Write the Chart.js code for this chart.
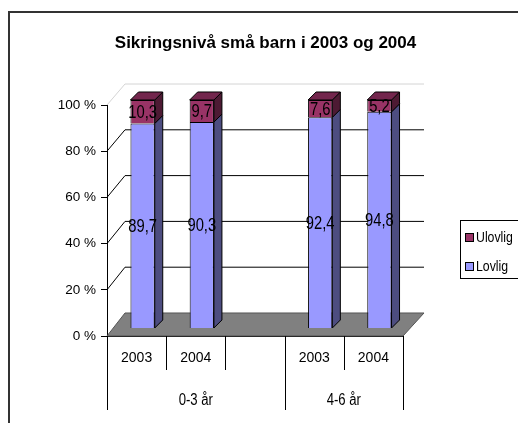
<!DOCTYPE html>
<html>
<head>
<meta charset="utf-8">
<script src="https://cdn.jsdelivr.net/npm/chart.js@4.4.1/dist/chart.umd.min.js"></script>
<style>
  html, body { margin: 0; padding: 0; background: #fff; }
  #myChart { display: block; }
</style>
</head>
<body>
<canvas id="myChart" width="518" height="423"></canvas>
<script>
// data
var years = ['2003', '2004', '', '2003', '2004'];
var groups = ['0-3 år', '4-6 år'];
var groupSizes = [3, 2];
var lovlig = [89.7, 90.3, null, 92.4, 94.8];
var ulovlig = [10.3, 9.7, null, 7.6, 5.2];
var yTicks = [0, 20, 40, 60, 80, 100];

var FONT = "'Liberation Sans', Arial, sans-serif";
var NARROW = 0.82;           // the original text is condensed
var BAR_SHIFT = 6;           // bars stand a little behind the front axis
var DEPTH = 8;               // depth of each bar
var WALL_L = 18, WALL_R = 21; // offset of the back wall

function narrowText(ctx, text, x, y) {
    ctx.save();
    ctx.translate(x, y);
    ctx.scale(NARROW, 1);
    ctx.fillText(text, 0, 0);
    ctx.restore();
}

// 3d look: walls, floor, bar sides and tops, value labels
var fake3d = {
    id: 'fake3d',
    beforeDatasetsDraw: function (chart) {
        var ctx = chart.ctx, y = chart.scales.y, yw = chart.scales.yw;
        var l = chart.chartArea.left, r = chart.chartArea.right;
        ctx.save();
        // floor
        ctx.beginPath();
        ctx.moveTo(l, y.getPixelForValue(0));
        ctx.lineTo(l + WALL_L, yw.getPixelForValue(0));
        ctx.lineTo(r + WALL_R, yw.getPixelForValue(0));
        ctx.lineTo(r, y.getPixelForValue(0));
        ctx.closePath();
        ctx.fillStyle = '#808080';
        ctx.fill();
        ctx.strokeStyle = '#555';
        ctx.lineWidth = 1;
        ctx.stroke();
        // side and back wall gridlines
        yTicks.forEach(function (v) {
            if (v === 0) return;
            ctx.beginPath();
            ctx.moveTo(l, y.getPixelForValue(v));
            ctx.lineTo(l + WALL_L, yw.getPixelForValue(v));
            ctx.lineTo(r + WALL_R, yw.getPixelForValue(v));
            ctx.strokeStyle = v === 100 ? '#d4d4d4' : '#000';
            ctx.stroke();
        });
        ctx.restore();
        ctx.save();
        ctx.translate(BAR_SHIFT, 0);
    },
    afterDatasetsDraw: function (chart) {
        var ctx = chart.ctx;
        var n = chart.data.datasets.length;
        ctx.lineWidth = 1;
        ctx.strokeStyle = '#000';
        chart.data.datasets.forEach(function (ds, di) {
            var meta = chart.getDatasetMeta(di);
            meta.data.forEach(function (el, i) {
                if (ds.data[i] == null) return;
                var xr = el.x + el.width / 2, xl = el.x - el.width / 2;
                // side
                ctx.beginPath();
                ctx.moveTo(xr, el.y);
                ctx.lineTo(xr + DEPTH, el.y - DEPTH);
                ctx.lineTo(xr + DEPTH, el.base - DEPTH);
                ctx.lineTo(xr, el.base);
                ctx.closePath();
                ctx.fillStyle = ds.sideColor;
                ctx.fill();
                ctx.stroke();
                // top of the stack
                if (di === n - 1) {
                    ctx.beginPath();
                    ctx.moveTo(xl, el.y);
                    ctx.lineTo(xl + DEPTH, el.y - DEPTH);
                    ctx.lineTo(xr + DEPTH, el.y - DEPTH);
                    ctx.lineTo(xr, el.y);
                    ctx.closePath();
                    ctx.fillStyle = ds.topColor;
                    ctx.fill();
                    ctx.stroke();
                }
            });
        });
        // value labels
        ctx.fillStyle = '#000';
        ctx.font = '18px ' + FONT;
        ctx.textAlign = 'center';
        ctx.textBaseline = 'middle';
        chart.data.datasets.forEach(function (ds, di) {
            chart.getDatasetMeta(di).data.forEach(function (el, i) {
                if (ds.data[i] == null) return;
                narrowText(ctx, ds.data[i].toFixed(1).replace('.', ','), el.x, (el.y + el.base) / 2 + 1);
            });
        });
        ctx.restore();
    },
    afterDraw: function (chart) {
        var ctx = chart.ctx, x = chart.scales.x;
        var bottom = chart.chartArea.bottom;
        ctx.save();
        ctx.strokeStyle = '#000';
        ctx.lineWidth = 1;
        // category separators, long ones between groups
        var bounds = [0], k = 0;
        groupSizes.forEach(function (s) { k += s; bounds.push(k); });
        for (var i = 0; i <= years.length; i++) {
            var px = Math.round(x.getPixelForValue(i - 0.5)) + 0.5;
            ctx.beginPath();
            ctx.moveTo(px, bottom);
            ctx.lineTo(px, bottom + (bounds.indexOf(i) >= 0 ? 74 : 34));
            ctx.stroke();
        }
        // group labels
        ctx.fillStyle = '#000';
        ctx.font = '16px ' + FONT;
        ctx.textAlign = 'center';
        ctx.textBaseline = 'middle';
        groups.forEach(function (g, gi) {
            var a = x.getPixelForValue(bounds[gi] - 0.5);
            var b = x.getPixelForValue(bounds[gi + 1] - 0.5);
            narrowText(ctx, g, (a + b) / 2, bottom + 65);
        });
        // legend, last series first
        ctx.strokeRect(460.5, 220.5, 60, 58);
        ctx.font = '15px ' + FONT;
        ctx.textAlign = 'left';
        var ds = chart.data.datasets.slice().reverse();
        ds.forEach(function (d, j) {
            var cy = 238 + j * 29;
            ctx.fillStyle = d.backgroundColor;
            ctx.fillRect(465.5, cy - 4.5, 8, 8);
            ctx.strokeRect(465.5, cy - 4.5, 8, 8);
            ctx.fillStyle = '#000';
            narrowText(ctx, d.label, 476, cy);
        });
        // outer frame
        ctx.strokeStyle = '#333';
        ctx.lineWidth = 2;
        ctx.strokeRect(9, 12, 700, 700);
        ctx.restore();
    }
};

var ctx = document.getElementById('myChart').getContext('2d');
var chart = new Chart(ctx, {
    type: 'bar',
    data: {
        labels: years,
        datasets: [{
            label: 'Lovlig',
            data: lovlig,
            backgroundColor: '#9999FF',
            sideColor: '#4D4D80',
            topColor: '#7A7ACC',
            borderColor: '#000',
            borderWidth: 1,
            yAxisID: 'yb',
            clip: false
        }, {
            label: 'Ulovlig',
            data: ulovlig,
            backgroundColor: '#993366',
            sideColor: '#4D1A33',
            topColor: '#73264D',
            borderColor: '#000',
            borderWidth: 1,
            yAxisID: 'yb',
            clip: false
        }]
    },
    options: {
        responsive: false,
        animation: false,
        devicePixelRatio: 1,
        barPercentage: 0.41,
        categoryPercentage: 1,
        layout: { padding: { left: 13, right: 0, top: 0, bottom: 0 } },
        plugins: {
            legend: { display: false },
            tooltip: { enabled: false },
            title: {
                display: true,
                text: 'Sikringsnivå små barn i 2003 og 2004',
                color: '#000',
                font: { family: FONT, size: 17, weight: 'bold' },
                padding: { top: 32.8, bottom: 51.8 }
            }
        },
        scales: {
            x: {
                stacked: true,
                offset: true,
                grid: { display: false, drawTicks: false },
                border: { display: true, color: '#000' },
                ticks: { color: '#000', font: { family: FONT, size: 14 }, padding: 14, maxRotation: 0, autoSkip: false },
                afterFit: function (s) { s.height = 87; }
            },
            y: {
                position: 'left',
                min: 0,
                max: 100,
                afterBuildTicks: function (s) { s.ticks = yTicks.map(function (v) { return { value: v }; }); },
                ticks: { color: '#000', font: { family: FONT, size: 13.5 }, padding: 5, callback: function (v) { return v + ' %'; } },
                grid: { drawOnChartArea: false, tickLength: 6, color: '#000' },
                border: { color: '#000' },
                afterFit: function (s) { s.width = 94; }
            },
            yb: { display: false, stacked: true, min: -3.509, max: 97.807 },
            yw: {
                position: 'right',
                min: -10.044,
                max: 90.83,
                ticks: { display: false },
                grid: { display: false },
                border: { display: false },
                afterFit: function (s) { s.width = 115; }
            }
        }
    },
    plugins: [fake3d]
});
</script>
</body>
</html>
